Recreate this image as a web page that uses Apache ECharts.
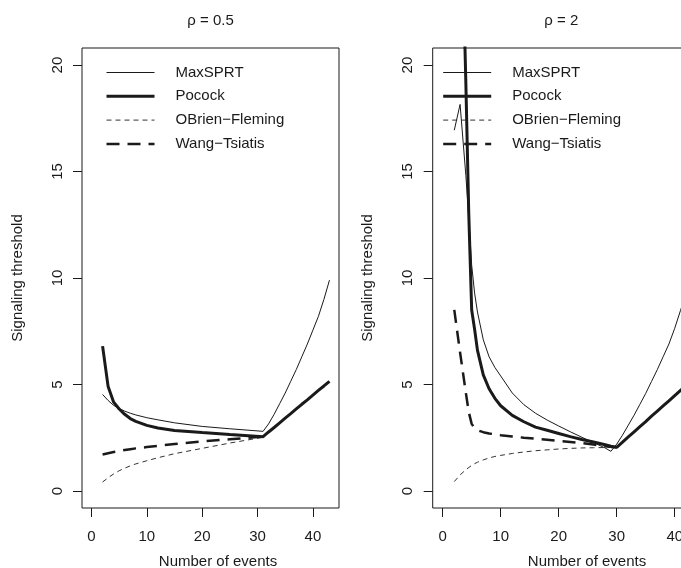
<!DOCTYPE html>
<html>
<head>
<meta charset="utf-8">
<script src="https://cdn.jsdelivr.net/npm/echarts@6/dist/echarts.min.js"></script>
<style>
  html, body { margin: 0; padding: 0; background: #fff; }
  #chart { width: 681px; height: 568px; }
</style>
</head>
<body>
<div id="chart"></div>
<script>
// 图例名称
var seriesNames = ['MaxSPRT', 'Pocock', 'OBrien\u2212Fleming', 'Wang\u2212Tsiatis'];
var xTicks = [0, 10, 20, 30, 40];
var yTicks = [0, 5, 10, 15, 20];

// rho = 0.5
var eventsLeft = [2, 3, 4, 5, 6, 7, 8, 10, 12, 15, 20, 25, 31, 32, 33, 34, 35, 36, 37, 38, 39, 40, 41, 42, 43];
var maxsprtLeft = [4.53, 4.25, 4.02, 3.87, 3.75, 3.65, 3.57, 3.44, 3.34, 3.2, 3.03, 2.92, 2.8, 3.15, 3.6, 4.1, 4.6, 5.15, 5.7, 6.3, 6.9, 7.55, 8.2, 9.0, 9.9];
var pocockLeft = [6.8, 4.9, 4.17, 3.85, 3.6, 3.4, 3.27, 3.08, 2.96, 2.84, 2.74, 2.65, 2.55, 2.77, 2.98, 3.2, 3.42, 3.63, 3.85, 4.07, 4.28, 4.5, 4.72, 4.93, 5.15];
var obfLeft = [0.42, 0.62, 0.8, 0.95, 1.07, 1.18, 1.27, 1.42, 1.56, 1.75, 2.0, 2.25, 2.52];
var wtLeft = [1.71, 1.77, 1.83, 1.88, 1.92, 1.96, 2.0, 2.06, 2.12, 2.2, 2.33, 2.43, 2.55];

// rho = 2
var eventsRight = [2, 3, 4, 4.5, 5, 5.5, 6, 7, 8, 9, 10, 12, 14, 16, 18, 20, 22, 24, 26, 28, 29, 30, 31, 32, 33, 34, 35, 36, 37, 38, 39, 40, 41, 42, 43];
var maxsprtRight = [16.94, 18.15, 14.8, 12.8, 10.6, 9.3, 8.4, 7.1, 6.3, 5.8, 5.4, 4.6, 4.05, 3.65, 3.33, 3.05, 2.78, 2.52, 2.27, 2.02, 1.86, 2.2, 2.62, 3.09, 3.56, 4.07, 4.58, 5.14, 5.7, 6.3, 6.9, 7.64, 8.48, 9.3, 10.2];
var pocockRight = [60, 30, 19.1, 13.0, 8.5, 7.6, 6.6, 5.45, 4.8, 4.35, 4.0, 3.55, 3.25, 3.0, 2.85, 2.7, 2.55, 2.42, 2.3, 2.17, 2.1, 2.05, 2.29, 2.54, 2.78, 3.02, 3.26, 3.51, 3.75, 3.99, 4.23, 4.48, 4.72, 4.96, 5.2];
var obfRight = [0.44, 0.75, 1.0, 1.1, 1.2, 1.28, 1.35, 1.46, 1.55, 1.62, 1.67, 1.76, 1.83, 1.89, 1.93, 1.97, 2.0, 2.02, 2.03, 2.04, 2.05, 2.05];
var wtRight = [8.5, 6.5, 4.6, 3.7, 3.15, 2.95, 2.85, 2.76, 2.7, 2.66, 2.62, 2.56, 2.5, 2.45, 2.4, 2.35, 2.3, 2.25, 2.18, 2.1, 2.07, 2.05];

var FONT = '"Liberation Sans", Arial, Helvetica, sans-serif';
var INK = '#1a1a1a';

function pairs(xs, ys) {
    var out = [];
    for (var i = 0; i < ys.length && i < xs.length; i++) {
        out.push([xs[i], ys[i]]);
    }
    return out;
}

// 四种线型: 细实线, 粗实线, 细虚线, 粗虚线
var lineStyles = [
    {color: INK, width: 1, type: 'solid'},
    {color: INK, width: 3, type: 'solid'},
    {color: '#333', width: 1, type: [5, 4]},
    {color: INK, width: 2.5, type: [13, 8]}
];

function makeSeries(idx, values, events) {
    var list = [];
    for (var k = 0; k < values.length; k++) {
        list.push({
            name: seriesNames[k],
            type: 'line',
            xAxisIndex: idx,
            yAxisIndex: idx,
            data: pairs(events, values[k]),
            symbol: 'none',
            itemStyle: {color: INK},
            lineStyle: lineStyles[k],
            clip: true,
            silent: true,
            animation: false
        });
    }
    return list;
}

function xAxisOf(idx) {
    return {
        type: 'value', gridIndex: idx, min: -1.72, max: 44.72,
        axisLine: {show: false, onZero: false},
        splitLine: {show: false},
        axisTick: {show: true, inside: false, length: 9, customValues: xTicks, lineStyle: {color: INK}},
        axisLabel: {customValues: xTicks, margin: 21, color: INK, fontSize: 15, fontFamily: FONT}
    };
}

function yAxisOf(idx) {
    return {
        type: 'value', gridIndex: idx, min: -0.8, max: 20.8,
        axisLine: {show: false, onZero: false},
        splitLine: {show: false},
        axisTick: {show: true, inside: false, length: 9, customValues: yTicks, lineStyle: {color: INK}},
        axisLabel: {customValues: yTicks, rotate: 90, margin: 17, color: INK, fontSize: 15, fontFamily: FONT}
    };
}

function legendOf(left) {
    var items = [];
    for (var k = 0; k < seriesNames.length; k++) {
        items.push({name: seriesNames[k], lineStyle: {width: lineStyles[k].width, type: lineStyles[k].type, color: lineStyles[k].color}});
    }
    return {
        orient: 'vertical', left: left, top: 65, padding: 0,
        data: items,
        itemWidth: 48, itemHeight: 14, itemGap: 8.8,
        selectedMode: false,
        itemStyle: {color: 'rgba(0,0,0,0)', borderColor: 'rgba(0,0,0,0)', borderWidth: 0},
        lineStyle: {width: 'inherit'},
        textStyle: {color: INK, fontSize: 15, fontFamily: FONT, padding: [0, 0, 0, 16]}
    };
}

function label(text, x, y, rotate) {
    return {
        type: 'text', x: x, y: y, rotation: rotate ? Math.PI / 2 : 0,
        style: {text: text, fill: INK, font: '15px ' + FONT, align: 'center', verticalAlign: 'middle'}
    };
}

var option = {
    backgroundColor: '#fff',
    animation: false,
    grid: [
        {left: 82, top: 48, width: 257, height: 460, show: true, borderColor: INK, borderWidth: 1, containLabel: false, outerBoundsMode: 'none'},
        {left: 432.7, top: 48, width: 269.4, height: 460, show: true, borderColor: INK, borderWidth: 1, containLabel: false, outerBoundsMode: 'none'}
    ],
    xAxis: [xAxisOf(0), xAxisOf(1)],
    yAxis: [yAxisOf(0), yAxisOf(1)],
    legend: [legendOf(105), legendOf(441.7)],
    graphic: [
        label('\u03c1 = 0.5', 210.5, 21),
        label('\u03c1 = 2', 561.3, 21),
        label('Number of events', 218, 561.5),
        label('Number of events', 587, 561.5),
        label('Signaling threshold', 17.5, 278, true),
        label('Signaling threshold', 367.5, 278, true)
    ],
    series: makeSeries(0, [maxsprtLeft, pocockLeft, obfLeft, wtLeft], eventsLeft)
        .concat(makeSeries(1, [maxsprtRight, pocockRight, obfRight, wtRight], eventsRight))
};

var myChart = echarts.init(document.getElementById('chart'));
myChart.setOption(option);
</script>
</body>
</html>
